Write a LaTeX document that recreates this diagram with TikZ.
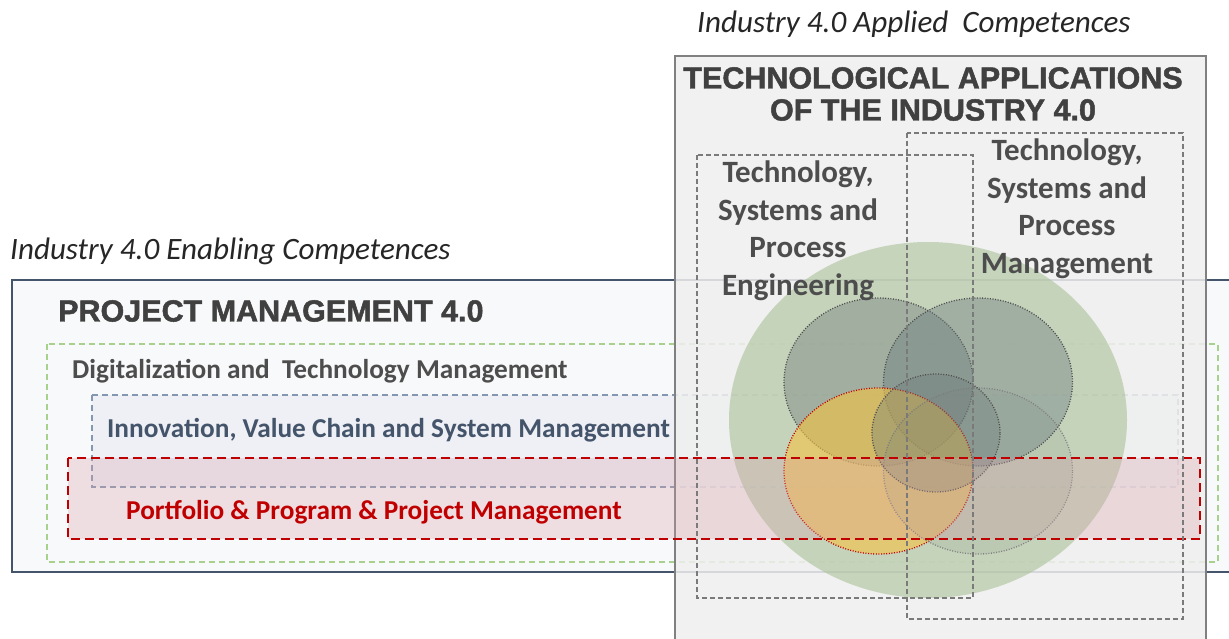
\documentclass[tikz,border=0pt]{standalone}
\usepackage{fontspec}
\setmainfont{Carlito}
\newfontfamily\arialfont[FakeBold=1.6]{Liberation Sans Bold}
\definecolor{pmborder}{HTML}{44546A}
\definecolor{pmfill}{HTML}{F8F9FA}
\definecolor{greendash}{HTML}{A9D18E}
\definecolor{bluedash}{HTML}{8497B0}
\definecolor{bluefill}{HTML}{EEF0F5}
\definecolor{reddark}{HTML}{C00000}
\definecolor{pinkfill}{HTML}{D9A0AA}
\definecolor{graybox}{HTML}{EFEFEF}
\definecolor{grayborder}{HTML}{808080}
\definecolor{techdash}{HTML}{7A7A7A}
\definecolor{biggreen}{HTML}{AAC199}
\definecolor{circgray}{HTML}{6E7B78}
\definecolor{circblue}{HTML}{6A7A80}
\definecolor{circyellow}{HTML}{F5C242}
\definecolor{textgray}{HTML}{4D4D4D}
\definecolor{titlegray}{HTML}{404040}
\definecolor{textdark}{HTML}{262626}
\definecolor{textblue}{HTML}{44546A}
\tikzset{
  pmbox/.style={draw=pmborder, fill=pmfill, line width=1.4pt},
  greenbox/.style={draw=greendash, line width=1.2pt, dash pattern=on 6pt off 4pt},
  bluebox/.style={draw=bluedash, fill=bluefill, line width=1.2pt, dash pattern=on 6pt off 4pt},
  redbox/.style={draw=reddark, fill=pinkfill, fill opacity=0.3, draw opacity=1, line width=2pt, dash pattern=on 9pt off 5pt},
  techbox/.style={draw=grayborder, fill=graybox, fill opacity=0.85, line width=1.6pt},
  tdash/.style={draw=techdash, line width=1.5pt, dash pattern=on 5pt off 3pt},
  dotc/.style={line width=1.3pt, dash pattern=on 1pt off 1.6pt},
  titletext/.style={inner sep=0pt, text=titlegray, font=\arialfont\fontsize{30.5}{32}\selectfont},
  bodytext/.style={inner sep=0pt, font=\bfseries\fontsize{27.3}{30}\selectfont},
  blocktext/.style={inner sep=0pt, align=center, text=textgray, font=\bfseries\fontsize{31}{37.5}\selectfont},
  itext/.style={inner sep=0pt, text=textdark, font=\itshape\fontsize{31.1}{33}\selectfont},
}
\begin{document}
\begin{tikzpicture}[x=1pt,y=-1pt]
\useasboundingbox (0,0) rectangle (1229,639);
\fill[white] (0,0) rectangle (1229,639);
% left structure
\draw[pmbox] (12,280) rectangle (1245,572);
\node[titletext, anchor=west] (pmt) at (58,311) {PROJECT MANAGEMENT 4.0};
\draw[greenbox] (47,344) rectangle (1218,562);
\node[bodytext, anchor=west, text=textgray] (dig) at (72,371) {Digitalization and~ Technology Management};
\draw[bluebox] (92,395) rectangle (1178,487);
\node[bodytext, anchor=west, text=textblue] (inn) at (107,430) {Innovation, Value Chain and System Management};
\node[itext, anchor=west] (enab) at (10,251) {Industry 4.0 Enabling Competences};
% right structure
\draw[techbox] (675,56) rectangle (1206,660);
\node[itext, anchor=west] (appl) at (697,24) {Industry 4.0 Applied~ Competences};
\node[titletext, anchor=center] (tat1) at (933,78) {TECHNOLOGICAL APPLICATIONS};
\node[titletext, anchor=center] (tat2) at (933,110) {OF THE INDUSTRY 4.0};
% circles
\fill[biggreen, fill opacity=0.6] (928,420) ellipse [x radius=199pt, y radius=178pt];
\path[fill=circgray, fill opacity=0.4, draw=black!70, dotc] (878.5,382) ellipse [x radius=94.5pt, y radius=84pt];
\path[fill=circblue, fill opacity=0.4, draw=black!70, dotc] (978,382) ellipse [x radius=94.5pt, y radius=84pt];
\path[fill=circyellow, fill opacity=0.6, draw=reddark, dotc] (878.5,471) ellipse [x radius=94.5pt, y radius=83pt];
\path[fill=circgray, fill opacity=0.12, draw=black!50, dotc] (978,471) ellipse [x radius=94.5pt, y radius=83pt];
\path[fill=circgray, fill opacity=0.35, draw=black!70, dotc] (936,433) ellipse [x radius=64pt, y radius=59pt];
% red box
\draw[redbox] (68,458) rectangle (1200,539);
\node[bodytext, anchor=west, text=reddark] (port) at (126,512) {Portfolio \& Program \& Project Management};
% tech dashed boxes
\draw[tdash] (697,155) rectangle (973,598);
\draw[tdash] (907,133) rectangle (1183,619);
\node[blocktext] (eng) at (798,231) {Technology,\\Systems and\\Process\\Engineering};
\node[blocktext] (man) at (1067,209) {Technology,\\Systems and\\Process\\Management};
\end{tikzpicture}
\end{document}
